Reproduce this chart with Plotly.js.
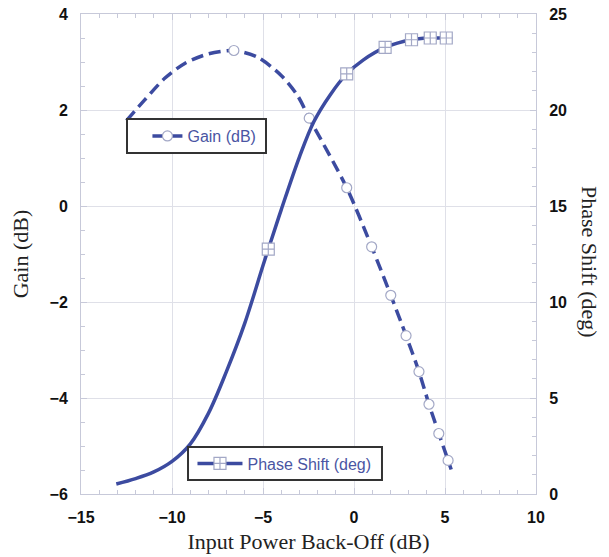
<!DOCTYPE html>
<html><head><meta charset="utf-8">
<script src="https://cdn.plot.ly/plotly-3.0.1.min.js"></script>
<style>html,body{margin:0;padding:0;background:#fff}</style>
</head><body><div id="chart" style="width:609px;height:557px"></div>
<script>
// Gain (dB) curve
const gainCurveX = [-12.5, -11.5, -10.4, -9.3, -8.0, -6.6, -5.3, -4.0, -3.1, -2.46, -0.40, 0.97, 2.02, 2.86, 3.57, 4.12, 4.66, 5.17, 5.34];
const gainCurveY = [1.78, 2.21, 2.66, 2.97, 3.17, 3.24, 3.10, 2.72, 2.30, 1.83, 0.38, -0.85, -1.86, -2.70, -3.45, -4.13, -4.74, -5.30, -5.49];
// Gain marker points (open circles)
const gainMarkX = [-6.6, -2.46, -0.40, 0.97, 2.02, 2.86, 3.57, 4.12, 4.66, 5.17];
const gainMarkY = [3.24, 1.83, 0.38, -0.85, -1.86, -2.70, -3.45, -4.13, -4.74, -5.30];
// Phase Shift (deg) curve
const phaseCurveX = [-13.06, -12, -11, -10, -9, -8, -7, -6, -5, -4.71, -4, -3, -2.2, -1.3, -0.40, 0.5, 1.71, 3.16, 4.19, 5.07, 5.4];
const phaseCurveY = [0.52, 0.8, 1.15, 1.7, 2.6, 4.2, 6.4, 8.9, 11.9, 12.75, 14.8, 17.55, 19.4, 20.8, 21.88, 22.6, 23.26, 23.66, 23.75, 23.75, 23.75];
// Phase marker points (squares)
const phaseMarkX = [-4.71, -0.40, 1.71, 3.16, 4.19, 5.07];
const phaseMarkY = [12.75, 21.88, 23.26, 23.66, 23.75, 23.75];

const gainName = 'Gain (dB)';
const phaseName = 'Phase Shift (deg)';
const xTitle = 'Input Power Back-Off (dB)';
const yTitle = 'Gain (dB)';
const y2Title = 'Phase Shift (deg)';

const LINE = '#3c4ba0';
const MEDGE = '#a3a8c6';

// interleave nulls so that marker points are not joined in the plot
function isolate(a){ const o=[]; a.forEach((v,i)=>{ if(i) o.push(null); o.push(v); }); return o; }

const traces = [
  {x: phaseCurveX, y: phaseCurveY, yaxis:'y2', mode:'lines', line:{color:LINE, width:3.5, shape:'spline', smoothing:1}, showlegend:false, hoverinfo:'skip'},
  {x: gainCurveX, y: gainCurveY, mode:'lines', line:{color:LINE, width:3.5, dash:'12px,6px', shape:'spline', smoothing:0.8}, showlegend:false, hoverinfo:'skip'},
  {x: isolate(gainMarkX), y: isolate(gainMarkY), name: gainName, mode:'lines+markers', connectgaps:false,
   line:{color:LINE, width:3.5, dash:'12px,6px'}, marker:{symbol:'circle', size:10, color:'#ffffff', line:{color:MEDGE, width:1.2}}, legend:'legend'},
  {x: isolate(phaseMarkX), y: isolate(phaseMarkY), yaxis:'y2', name: phaseName, mode:'lines+markers', connectgaps:false,
   line:{color:LINE, width:3.5}, marker:{symbol:'square-cross', size:12, color:'#ffffff', line:{color:MEDGE, width:1.2}}, legend:'legend2'}
];

const tickFont = {family:'Liberation Sans, Arial, sans-serif', size:16, weight:'bold', color:'#111'};
const titleFont = {family:'Liberation Serif, Times New Roman, serif', size:22, color:'#222'};
const AX = '#c7c9d9', GRID = '#dfe0e8';
const legFont = {family:'Liberation Sans, Arial, sans-serif', size:16, color:'#4a55a3'};

const layout = {
  width:609, height:557,
  margin:{l:81, r:73, t:14, b:63},
  paper_bgcolor:'#fff', plot_bgcolor:'#fff',
  xaxis:{range:[-15,10], dtick:5, tick0:-15, showgrid:true, gridcolor:GRID, zeroline:false,
    showline:true, linecolor:AX, linewidth:1, mirror:'ticks', ticks:'inside', ticklen:6, tickcolor:AX,
    minor:{dtick:1, ticks:'inside', ticklen:4, tickcolor:AX, showgrid:false},
    tickfont:tickFont, ticklabelstandoff:9,
    title:{text:xTitle, font:titleFont, standoff:8}},
  yaxis:{range:[-6,4], dtick:2, showgrid:true, gridcolor:GRID, zeroline:false,
    showline:true, linecolor:AX, linewidth:1, mirror:true, ticks:'inside', ticklen:6, tickcolor:AX,
    minor:{dtick:0.5, ticks:'inside', ticklen:4, tickcolor:AX, showgrid:false},
    tickfont:tickFont, ticklabelstandoff:9,
    title:{text:yTitle, font:titleFont, standoff:14}},
  yaxis2:{range:[0,25], dtick:5, overlaying:'y', side:'right', showgrid:false, zeroline:false,
    showline:true, linecolor:AX, linewidth:1, ticks:'inside', ticklen:6, tickcolor:AX,
    minor:{dtick:1, ticks:'inside', ticklen:4, tickcolor:AX, showgrid:false},
    tickfont:tickFont, ticklabelstandoff:9},
  legend:{x:0.146, y:0.7458, xanchor:'left', yanchor:'middle', bgcolor:'rgba(0,0,0,0)', borderwidth:0, font:legFont, itemwidth:30},
  legend2:{x:0.245, y:0.0635, xanchor:'left', yanchor:'middle', bgcolor:'rgba(0,0,0,0)', borderwidth:0, font:legFont, itemwidth:45},
  shapes:[
    {type:'rect', xref:'paper', yref:'paper', x0:0.1011, x1:0.4066, y0:0.7104, y1:0.78125, fillcolor:'#fff', line:{color:'#333', width:2}, layer:'above'},
    {type:'rect', xref:'paper', yref:'paper', x0:0.2352, x1:0.6615, y0:0.0292, y1:0.0979, fillcolor:'#fff', line:{color:'#333', width:2}, layer:'above'}
  ],
  annotations:[
    {text:y2Title, xref:'paper', yref:'paper', x:1.119, y:0.483, showarrow:false, textangle:90, font:titleFont, xanchor:'center', yanchor:'middle'}
  ]
};

Plotly.newPlot('chart', traces, layout, {displayModeBar:false, staticPlot:true});
</script></body></html>
